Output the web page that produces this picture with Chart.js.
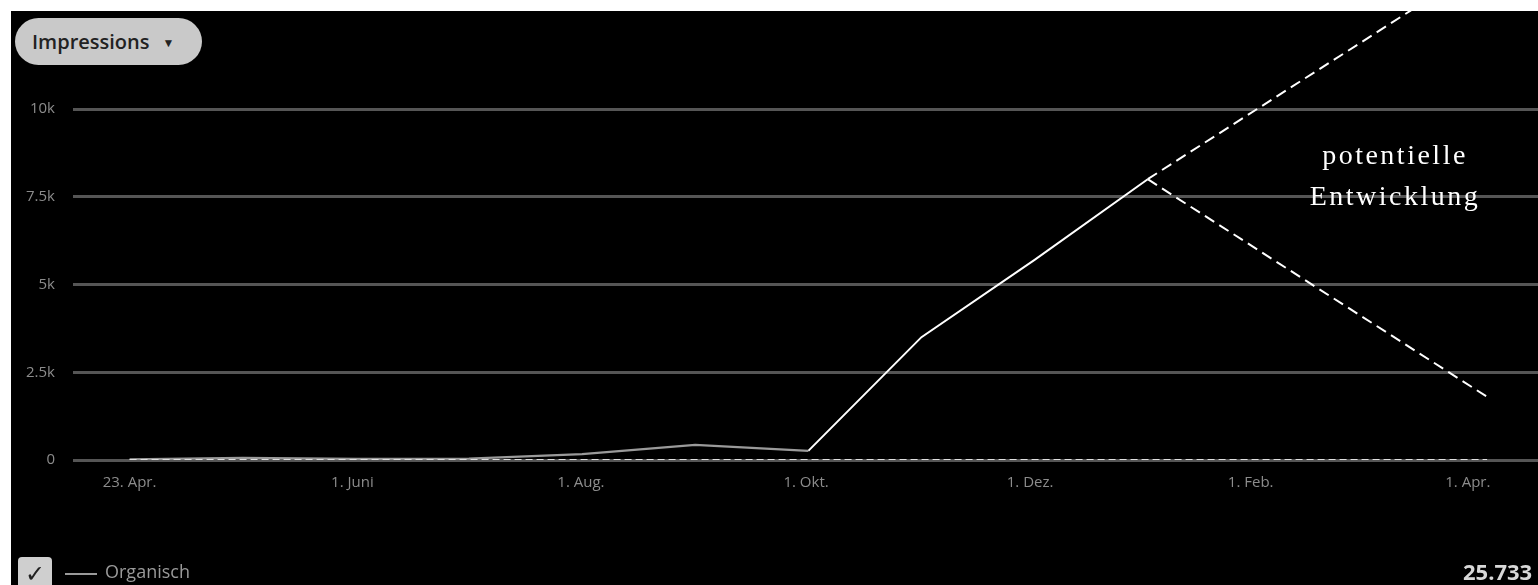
<!DOCTYPE html>
<html>
<head>
<meta charset="utf-8">
<script src="https://cdn.jsdelivr.net/npm/chart.js@4"></script>
<style>
  body { margin: 0; background: #fff; width: 1538px; height: 585px; overflow: hidden; }
  #panel { position: absolute; left: 11px; top: 11px; width: 1527px; height: 574px; background: #000; overflow: hidden; }
  #chart { position: absolute; left: 0; top: 0; }
  #metric { position: absolute; left: 4px; top: 7px; width: 187px; height: 47px; border-radius: 24px; background: #c9c9c9;
    font-family: "Open Sans", sans-serif; font-weight: 600; font-size: 20px; color: #222; line-height: 47px; padding-left: 17px; box-sizing: border-box; }
  #metric span { font-size: 12px; margin-left: 13px; position: relative; top: -2px; }
  #note { position: absolute; left: 1284px; top: 123px; width: 200px; text-align: center; font-family: "Liberation Serif", serif;
    font-size: 28px; letter-spacing: 2.5px; line-height: 41px; color: #fff; }
  #legend { position: absolute; left: 7px; top: 546px; font-family: "Open Sans", sans-serif; font-size: 18px; color: #9a9a9a; }
  #legend .box { position: absolute; left: 0; top: 0; width: 34px; height: 34px; border-radius: 4px; background: #cfcfcf; color: #222;
    font-size: 24px; line-height: 32px; text-align: center; }
  #legend .dash { position: absolute; left: 47px; top: 16px; width: 32px; height: 2px; background: #9a9a9a; }
  #legend .txt { position: absolute; left: 87px; top: 2px; white-space: nowrap; }
  #total { position: absolute; left: 1452px; top: 545px; font-family: "Open Sans", sans-serif; font-weight: 700; font-size: 22px; color: #d8d8d8; white-space: nowrap; }
</style>
</head>
<body>
<div id="panel">
  <canvas id="chart" width="1527" height="574"></canvas>
  <div id="metric">Impressions<span>&#9660;</span></div>
  <div id="note">potentielle<br>Entwicklung</div>
  <div id="legend"><div class="box">&#10003;</div><div class="dash"></div><div class="txt">Organisch</div></div>
  <div id="total">25.733</div>
</div>
<script>
// monthly points, index 0 = 23. Apr.
const months = ['Apr', 'Mai', 'Jun', 'Jul', 'Aug', 'Sep', 'Okt', 'Nov', 'Dez', 'Jan', 'Feb', 'Mär', 'Apr'];
const organisch = [20, 60, 30, 40, 170, 430, 260, null, null, null, null, null, null];
const anstieg = [null, null, null, null, null, null, 260, 3500, 5700, 8000, null, null, null];
const potentialHoch = [null, null, null, null, null, null, null, null, null, 8000, null, null, 14200];
const potentialRunter = [null, null, null, null, null, null, null, null, null, 8000, null, null, 1800];
const vorperiode = [0, 0, 0, 0, 0, 0, 0, 0, 0, 0, 0, 0, 0];

const xTickPos = [0, 1.97, 3.99, 5.98, 7.96, 9.91, 11.83];
const xTickLabels = ['23. Apr.', '1. Juni', '1. Aug.', '1. Okt.', '1. Dez.', '1. Feb.', '1. Apr.'];
const yTickValues = [0, 2500, 5000, 7500, 10000];
const yTickLabels = ['0', '2.5k', '5k', '7.5k', '10k'];

const pts = arr => arr.map((v, i) => ({ x: i, y: v }));

new Chart(document.getElementById('chart'), {
    type: 'line',
    data: {
        datasets: [
            { label: 'Vorperiode', data: pts(vorperiode), borderColor: '#e0e0e0', borderWidth: 2, borderDash: [7, 4], pointRadius: 0 },
            { label: 'Organisch', data: pts(organisch), borderColor: '#9a9a9a', borderWidth: 2.2, pointRadius: 0 },
            { label: 'Anstieg', data: pts(anstieg), borderColor: '#fff', borderWidth: 2, pointRadius: 0 },
            { label: 'hoch', data: pts(potentialHoch), borderColor: '#fff', borderWidth: 2, borderDash: [11, 6], pointRadius: 0, spanGaps: true, clip: false },
            { label: 'runter', data: pts(potentialRunter), borderColor: '#fff', borderWidth: 2, borderDash: [11, 6], pointRadius: 0, spanGaps: true, clip: false }
        ]
    },
    options: {
        animation: false,
        responsive: false,
        layout: { padding: { top: 98, right: 0, left: 0, bottom: 0 } },
        plugins: { legend: { display: false }, tooltip: { enabled: false } },
        scales: {
            x: {
                type: 'linear', min: -0.5, max: 12.45,
                afterBuildTicks: s => { s.ticks = xTickPos.map(v => ({ value: v })); },
                afterFit: s => { s.height = 125; },
                ticks: {
                    autoSkip: false, maxRotation: 0, padding: 6, color: '#8c8c8c',
                    font: { family: 'Open Sans', size: 15 },
                    callback: (v, i) => xTickLabels[i]
                },
                grid: { display: false },
                border: { display: false }
            },
            y: {
                min: 0, max: 10000,
                afterBuildTicks: s => { s.ticks = yTickValues.map(v => ({ value: v })); },
                afterFit: s => { s.width = 62; },
                ticks: {
                    padding: 18, color: '#8c8c8c',
                    font: { family: 'Open Sans', size: 15 },
                    callback: (v, i) => yTickLabels[i]
                },
                grid: { color: '#555', lineWidth: 3, drawTicks: false },
                border: { display: false }
            }
        }
    }
});
</script>
</body>
</html>
